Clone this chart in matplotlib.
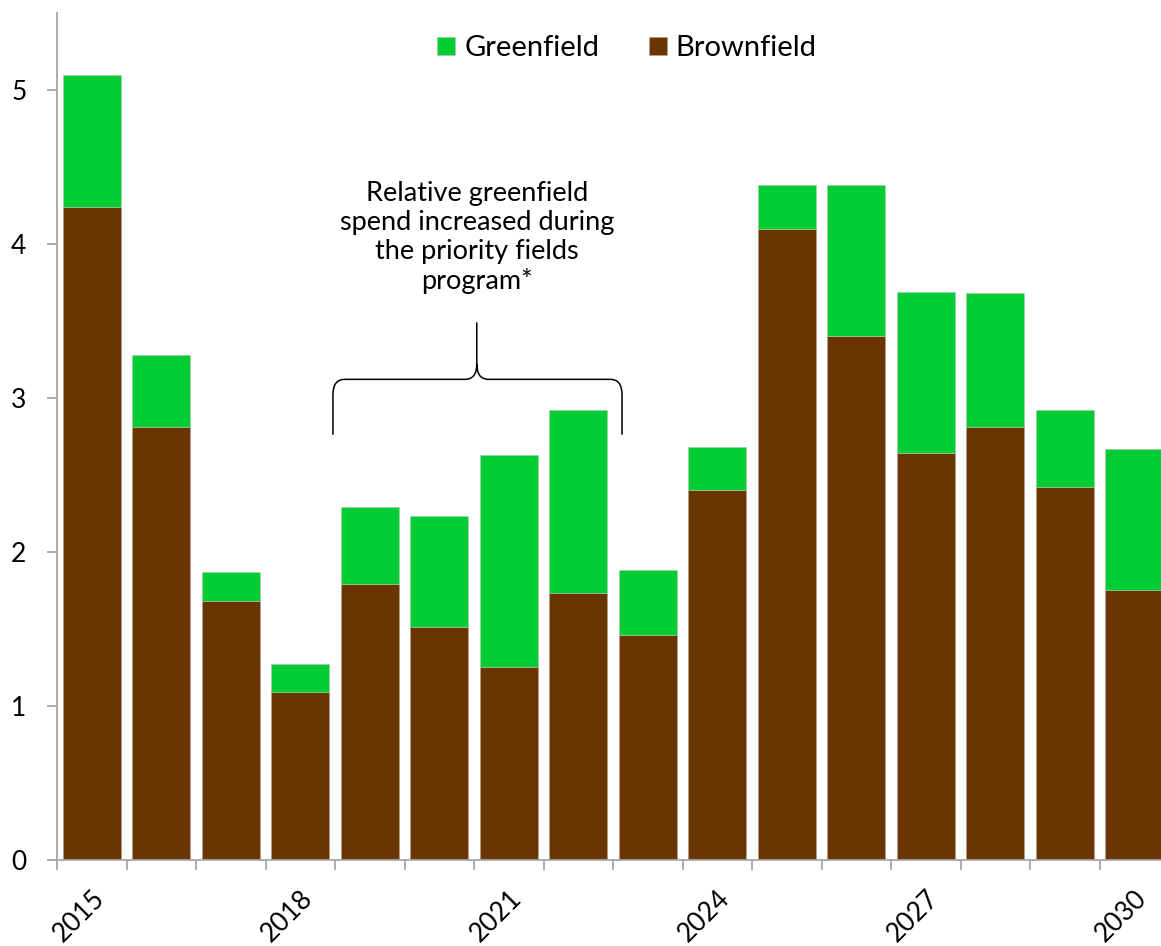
import numpy as np
import matplotlib.pyplot as plt
from matplotlib.path import Path
from matplotlib.patches import PathPatch

plt.rcParams['font.family'] = ['Lato', 'DejaVu Sans']

years = list(range(2015, 2031))
brownfield = [4.24, 2.81, 1.68, 1.09, 1.79, 1.51, 1.25, 1.73, 1.46, 2.40, 4.10, 3.40, 2.64, 2.81, 2.42, 1.75]
greenfield = [0.86, 0.47, 0.19, 0.18, 0.50, 0.72, 1.38, 1.19, 0.42, 0.28, 0.28, 0.98, 1.05, 0.87, 0.50, 0.92]
label_years = [2015, 2018, 2021, 2024, 2027, 2030]
note = "Relative greenfield\nspend increased during\nthe priority fields\nprogram*"

GREEN = '#00CC33'
BROWN = '#6B3502'
AXIS = '#A6A6A6'

fig = plt.figure(figsize=(11.61, 9.46), dpi=100)
ax = fig.add_axes([0.0491, 0.0914, 0.9578, 0.8948])

x = np.arange(len(years))
ax.bar(x, brownfield, width=0.835, color=BROWN, edgecolor='#B0A090', linewidth=0.4, label='Brownfield', zorder=2)
ax.bar(x, greenfield, width=0.835, bottom=brownfield, color=GREEN, edgecolor='#B0C8B0',
       linewidth=0.4, label='Greenfield', zorder=2)

ax.set_xlim(-0.5, len(years) - 0.5)
ax.set_ylim(0, 5.5)

for s in ['top', 'right']:
    ax.spines[s].set_visible(False)
for s in ['left', 'bottom']:
    ax.spines[s].set_color(AXIS)
    ax.spines[s].set_linewidth(1.3)

# boundaries between categories carry the tick marks, labels sit on bar centres
ax.set_xticks(np.arange(len(years) + 1) - 0.5)
ax.set_xticklabels([])
ax.tick_params(axis='x', which='major', length=7, color=AXIS, width=1.3)
lab_pos = [years.index(y) for y in label_years]
ax.set_xticks(lab_pos, [str(y) for y in label_years], minor=True)
ax.tick_params(axis='x', which='minor', length=0, pad=19, labelsize=19)
for t in ax.get_xticklabels(minor=True):
    t.set_rotation(45)
    t.set_ha('right')
    t.set_rotation_mode('anchor')

ax.set_yticks(range(6))
ax.tick_params(axis='y', length=7, color=AXIS, width=1.3, labelsize=19, pad=15)

handles, labels = ax.get_legend_handles_labels()
fig.legend(handles[::-1], labels[::-1], loc='center', bbox_to_anchor=(0.54, 0.949), ncol=2,
           frameon=False, fontsize=21, handlelength=0.62, handleheight=0.62,
           handletextpad=0.3, columnspacing=1.7)

# curly brace over the programme years
x0, x1, xt = 3.47, 7.63, 5.54
yb, ym, yt = 2.76, 3.12, 3.49
rx, ry = 0.17, 0.1
verts = [(x0, yb), (x0, ym - ry), (x0, ym), (x0 + rx, ym), (xt - rx, ym), (xt, ym), (xt, ym + ry),
         (xt, yt),
         (xt, ym + ry), (xt, ym), (xt + rx, ym), (x1 - rx, ym), (x1, ym), (x1, ym - ry), (x1, yb)]
codes = [Path.MOVETO, Path.LINETO, Path.CURVE3, Path.CURVE3, Path.LINETO, Path.CURVE3, Path.CURVE3,
         Path.LINETO,
         Path.MOVETO, Path.CURVE3, Path.CURVE3, Path.LINETO, Path.CURVE3, Path.CURVE3, Path.LINETO]
ax.add_patch(PathPatch(Path(verts, codes), facecolor='none', edgecolor='black', lw=1.1, zorder=3))
ax.text(xt, 4.04, note, ha='center', va='center', fontsize=19.5, linespacing=1.2)

fig.savefig('out.png', dpi=100)
